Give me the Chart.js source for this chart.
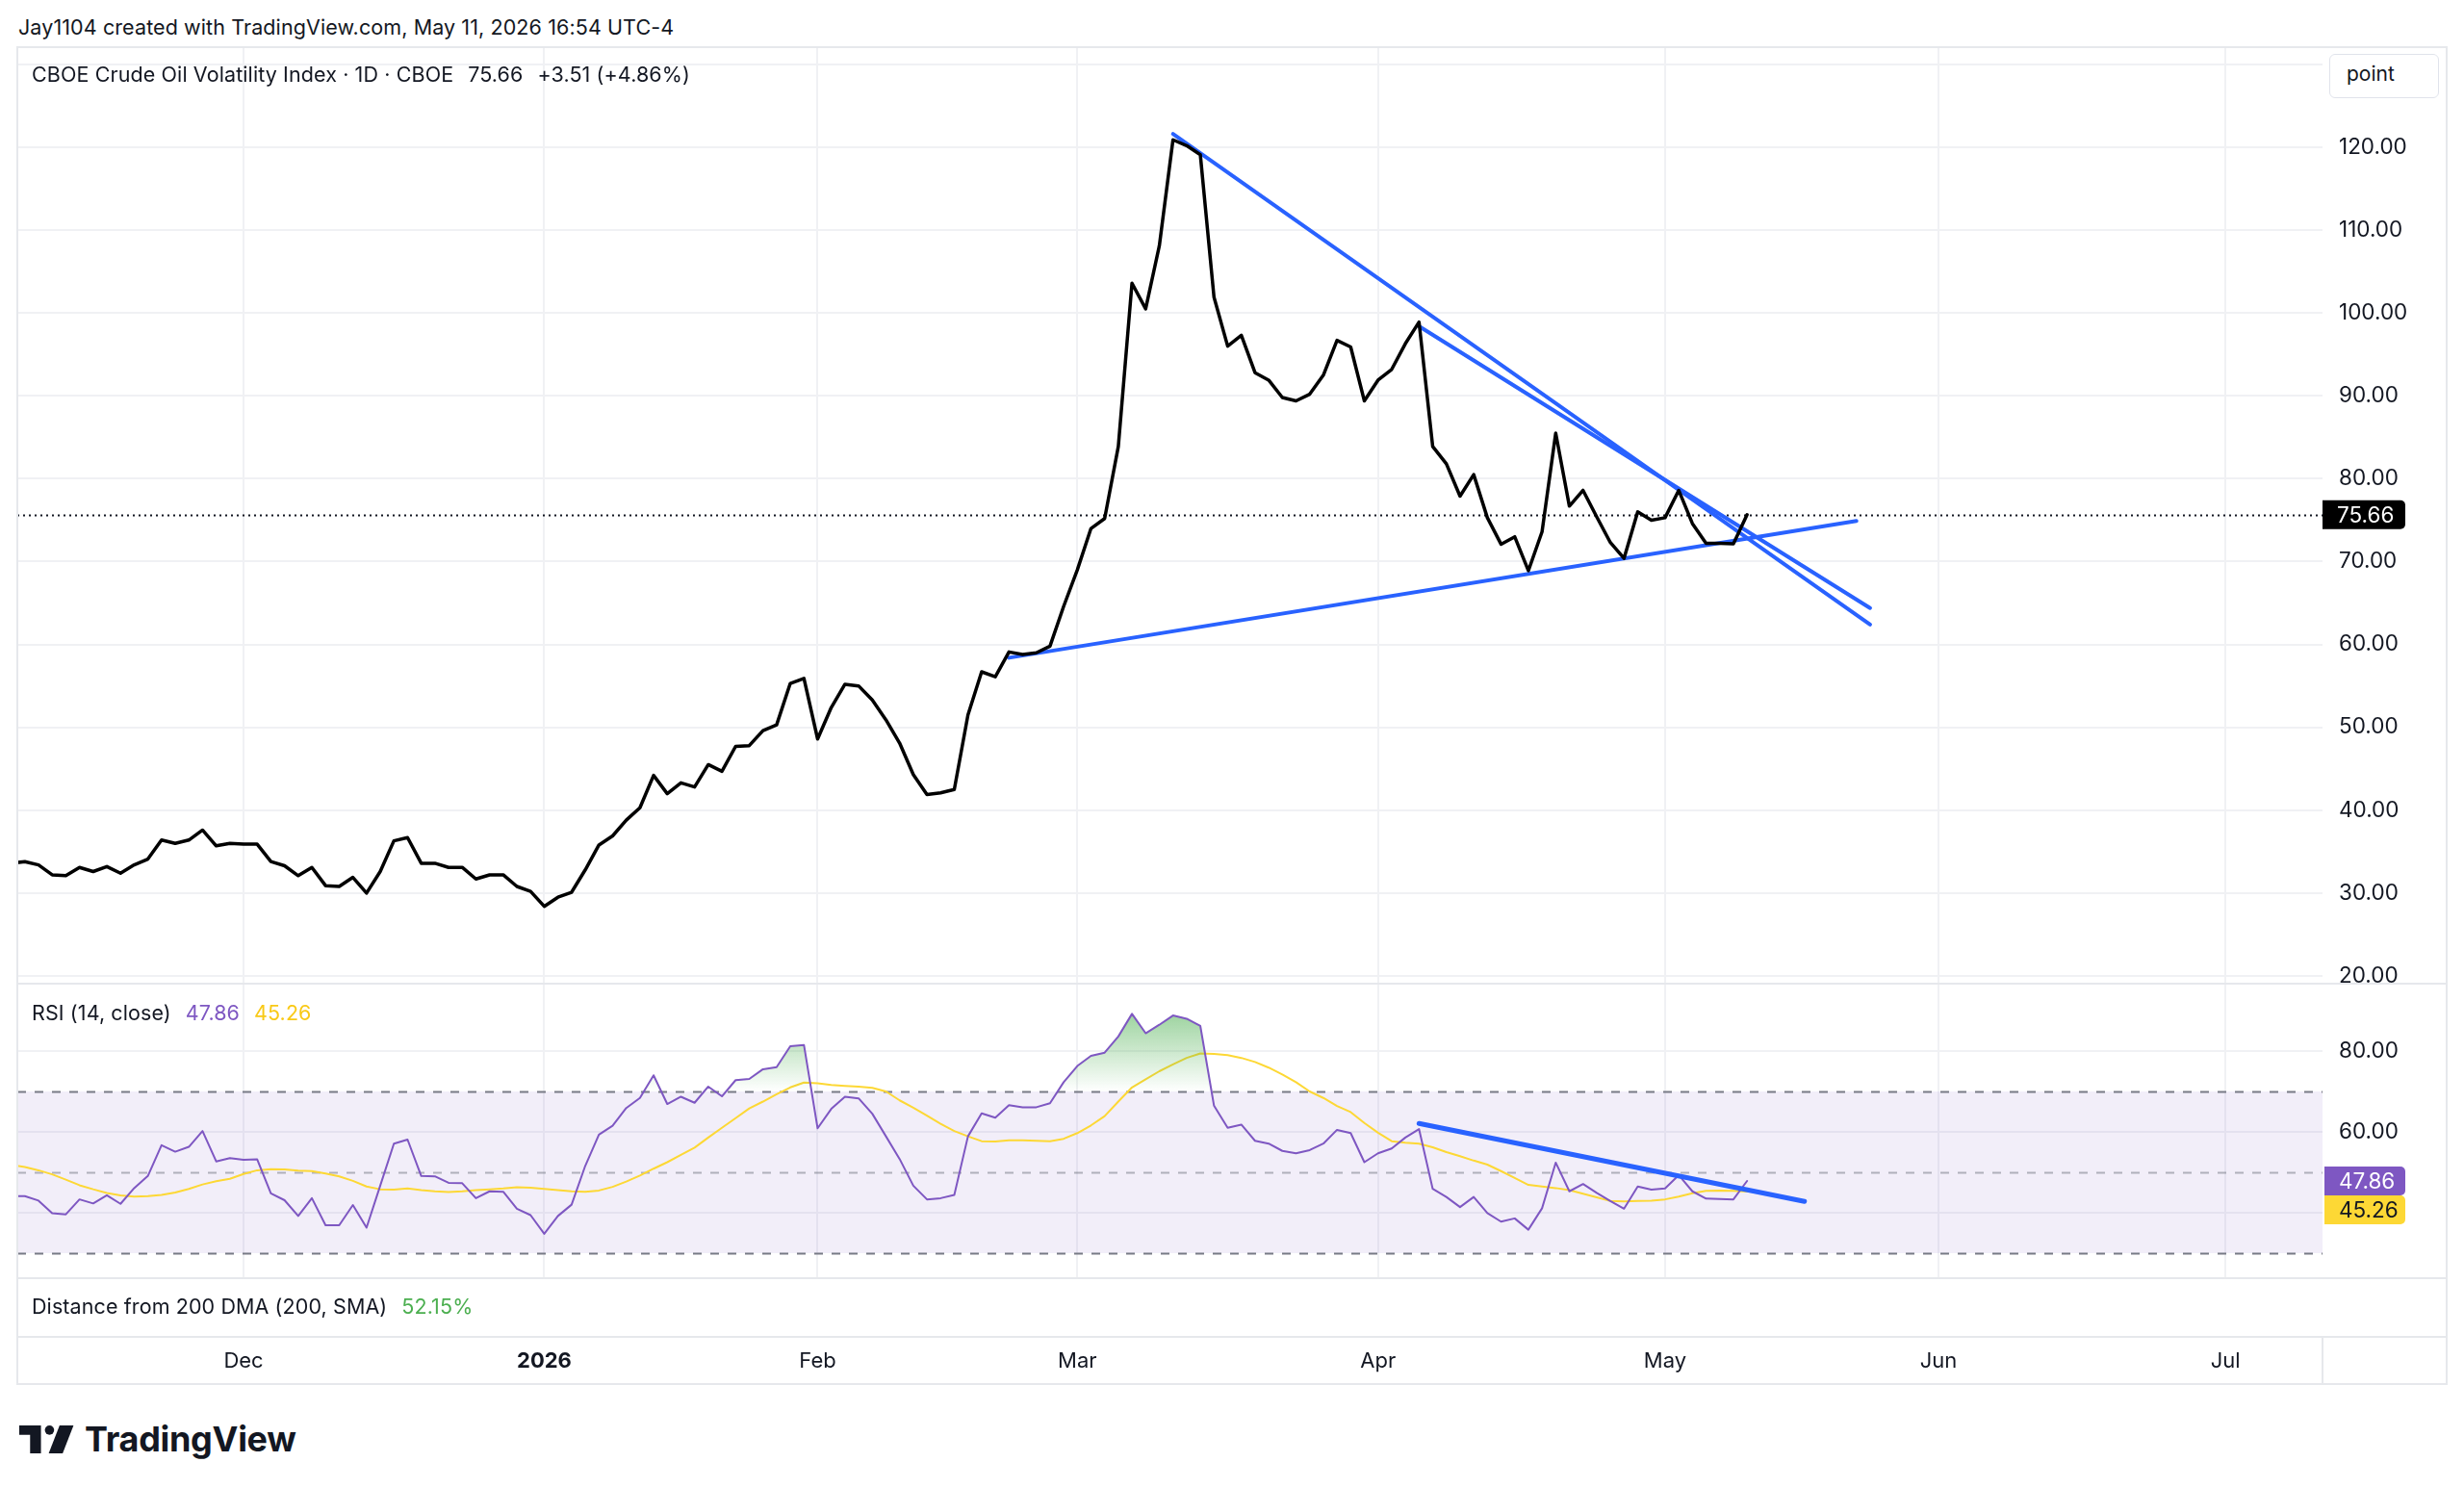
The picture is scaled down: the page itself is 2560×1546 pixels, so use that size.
<!DOCTYPE html>
<html>
<head>
<meta charset="utf-8">
<title>CBOE Crude Oil Volatility Index</title>
<script src="https://cdn.jsdelivr.net/npm/chart.js@4.4.1/dist/chart.umd.min.js"></script>
<style>
  html, body { margin: 0; padding: 0; background: #fff; }
  body {
    position: relative; width: 2560px; height: 1546px; overflow: hidden;
    font-family: Inter, "Noto Sans", "DejaVu Sans", sans-serif; color: #131722;
  }
  .abs { position: absolute; white-space: pre; }
  .pane { position: absolute; left: 18px; width: 2524px; }
  .line-h { position: absolute; left: 18px; width: 2524px; height: 2px; background: #E6E8EC; }
  .line-v { position: absolute; width: 2px; background: #E6E8EC; }
  .legend { position: absolute; left: 33px; font-size: 21.5px; line-height: 24px; white-space: pre; letter-spacing: 0.1px; }
  .gap { margin-left: 15px; }
</style>
</head>
<body>

<div class="abs" style="left:19px; top:16px; font-size:21.5px; line-height:24px; letter-spacing:0.1px;">Jay1104 created with TradingView.com, May 11, 2026 16:54 UTC-4</div>

<div class="pane" style="top:49px; height:973px;"><canvas id="priceChart"></canvas></div>
<div class="pane" style="top:1022px; height:306px;"><canvas id="rsiChart"></canvas></div>
<div class="pane" style="top:1328px; height:110px;"><canvas id="timeChart"></canvas></div>

<!-- frame and pane separators -->
<div class="line-h" style="top:48px;"></div>
<div class="line-h" style="top:1021px;"></div>
<div class="line-h" style="top:1327px;"></div>
<div class="line-h" style="top:1388px;"></div>
<div class="line-h" style="top:1437px;"></div>
<div class="line-v" style="left:17px; top:48px; height:1391px;"></div>
<div class="line-v" style="left:2541px; top:48px; height:1391px;"></div>
<div class="line-v" style="left:2412px; top:1388px; height:50px;"></div>

<div class="legend" style="top:65px;">CBOE Crude Oil Volatility Index · 1D · CBOE<span class="gap">75.66</span><span class="gap">+3.51 (+4.86%)</span></div>
<div class="legend" style="top:1040px;">RSI (14, close)<span class="gap" style="color:#7E57C2;">47.86</span><span class="gap" style="color:#F9C916;">45.26</span></div>
<div class="legend" style="top:1345px;">Distance from 200 DMA (200, SMA)<span class="gap" style="color:#4CAF50;">52.15%</span></div>

<div class="abs" style="left:2420px; top:56px; width:112px; height:44px; border:1px solid #E0E3EB; border-radius:6px; background:#fff;"></div>
<div class="abs" style="left:2438px; top:65px; font-size:21px; line-height:24px;">point</div>

<div class="abs" style="left:20px; top:1477px; display:flex; align-items:center;">
  <svg width="58" height="29" viewBox="0 0 36 18">
    <path d="M0 0H14V18H7V6H0Z" fill="#131722"/>
    <circle cx="19.5" cy="3" r="3" fill="#131722"/>
    <path d="M26 0H35L28 18H19Z" fill="#131722"/>
  </svg>
  <span style="margin-left:10px; font-size:36px; font-weight:700; letter-spacing:-0.3px; line-height:36px;">TradingView</span>
</div>

<script>
// bar 0 = Dec 1 2025, one bar per trading day
const FIRST_BAR = -17;
const monthBars = [0, 22, 42, 61, 83, 104, 124, 145];
const monthLabels = ['Dec', '2026', 'Feb', 'Mar', 'Apr', 'May', 'Jun', 'Jul'];
const priceTicks = [20, 30, 40, 50, 60, 70, 80, 90, 100, 110, 120, 130];
const rsiTicks = [40, 60, 80];
const rsiLevels = [70, 50, 30];

const closes = [
  33.6, 33.8, 33.4, 32.2, 32.1, 33.1, 32.6, 33.2, 32.4, 33.4,
  34.1, 36.4, 36.0, 36.4, 37.6, 35.7, 36.0, 35.9, 35.9, 33.8,
  33.3, 32.1, 33.1, 30.9, 30.8, 31.9, 30.0, 32.6, 36.3, 36.7,
  33.6, 33.6, 33.1, 33.1, 31.7, 32.2, 32.2, 30.8, 30.2, 28.4,
  29.5, 30.1, 32.8, 35.8, 36.9, 38.8, 40.3, 44.2, 42.0, 43.3,
  42.8, 45.5, 44.7, 47.7, 47.8, 49.6, 50.3, 55.3, 55.9, 48.6,
  52.4, 55.2, 55.0, 53.3, 50.9, 48.1, 44.3, 41.9, 42.1, 42.5,
  51.5, 56.7, 56.1, 59.1, 58.8, 59.0, 59.8, 64.6, 69.0, 74.0,
  75.2, 83.9, 103.6, 100.5, 108.1, 120.9, 120.2, 119.1, 101.9, 96.0,
  97.3, 92.8, 91.9, 89.8, 89.4, 90.2, 92.5, 96.7, 95.9, 89.4,
  91.9, 93.2, 96.3, 98.9, 83.9, 81.8, 77.9, 80.5, 75.3, 72.1,
  73.0, 68.9, 73.6, 85.5, 76.7, 78.6, 75.4, 72.3, 70.4, 76.0,
  75.0, 75.3, 78.6, 74.6, 72.2, 72.2, 72.15, 75.66
];

const rsi = [
  44.1, 44.1, 43.0, 39.9, 39.6, 43.3, 42.3, 44.3, 42.2, 46.1,
  49.1, 56.7, 55.1, 56.3, 60.2, 52.7, 53.5, 53.1, 53.2, 44.8,
  43.1, 39.2, 43.6, 36.9, 36.9, 41.9, 36.3, 46.7, 57.1, 58.1,
  49.1, 49.0, 47.4, 47.3, 43.6, 45.3, 45.2, 41.0, 39.4, 34.8,
  39.2, 42.0, 51.6, 59.3, 61.5, 65.9, 68.4, 74.0, 66.9, 68.7,
  67.2, 71.2, 68.8, 72.8, 73.1, 75.5, 76.0, 81.2, 81.5, 60.9,
  65.7, 68.7, 68.3, 64.5, 58.9, 53.3, 46.7, 43.3, 43.6, 44.4,
  58.9, 64.6, 63.5, 66.6, 66.1, 66.1, 67.1, 72.3, 76.3, 78.8,
  79.6, 83.6, 89.2, 84.4, 86.5, 88.8, 88.0, 86.2, 66.5, 61.0,
  61.8, 57.8, 57.1, 55.3, 54.7, 55.5, 57.1, 60.5, 59.7, 52.5,
  54.7, 55.9, 58.6, 60.7, 45.9, 43.9, 41.4, 43.9, 39.9, 37.8,
  38.6, 35.8, 41.1, 52.4, 45.3, 47.1, 44.9, 42.9, 41.0, 46.5,
  45.7, 46.0, 49.3, 45.3, 43.5, 43.4, 43.3, 47.86
];

const rsiMa = [
  51.9, 51.3, 50.5, 49.5, 48.2, 46.8, 45.8, 44.9, 44.3, 44.0,
  44.1, 44.4, 45.0, 45.9, 47.0, 47.8, 48.4, 49.6, 50.5, 50.8,
  50.7, 50.4, 50.3, 49.7, 49.0, 47.9, 46.5, 45.8, 45.7, 46.0,
  45.6, 45.3, 45.1, 45.3, 45.6, 45.8, 46.0, 46.3, 46.2, 45.9,
  45.6, 45.3, 45.2, 45.5, 46.4, 47.7, 49.2, 50.9, 52.5, 54.3,
  56.1, 58.6, 61.0, 63.4, 65.8, 67.5, 69.3, 71.0, 72.2, 72.0,
  71.6, 71.4, 71.2, 70.9, 70.0, 67.8, 66.0, 64.0, 62.0, 60.2,
  58.9, 57.7, 57.6, 57.9, 57.9, 57.8, 57.7, 58.3, 59.7, 61.6,
  63.9, 67.5, 71.0, 73.0, 75.0, 76.7, 78.3, 79.4, 79.3, 79.0,
  78.3, 77.3, 75.9, 74.2, 72.3, 70.0, 68.4, 66.4, 64.9, 62.2,
  59.8, 57.7, 57.3, 57.1, 56.2, 55.0, 54.0, 52.9, 51.9, 50.3,
  48.6, 46.9, 46.5, 46.1, 45.6, 44.7, 43.8, 42.9, 42.8, 42.9,
  43.0, 43.3, 44.0, 44.8, 45.4, 45.5, 45.4, 45.26
];

// drawn trend lines: [bar, value] end points
const peakLine = [[68, 121.6], [119, 62.4]];
const aprilLine = [[86, 98.4], [119, 64.4]];
const supportLine = [[56, 58.4], [118, 74.9]];
const rsiTrendLine = [[86, 62.1], [114.2, 42.8]];

const lastClose = closes[closes.length - 1];
const lastRsi = rsi[rsi.length - 1];
const lastRsiMa = rsiMa[rsiMa.length - 1];

// view range of the shared time axis and panes
const XMIN = -16.55, XMAX = 152.1;
const PRICE_MIN = 19.07, PRICE_MAX = 132.08;
const RSI_MIN = 23.81, RSI_MAX = 96.67;

const AXIS_W = 129;
const GRID = '#F0F1F4';
const BLUE = '#2962FF';
const PURPLE = '#7E57C2';
const YELLOW = '#FDD835';
const FONT = 'Inter, "Noto Sans", sans-serif';
const AXIS_FONT = 22.5;

Chart.defaults.font.family = FONT;
Chart.defaults.color = '#131722';

const toPoints = arr => arr.map((v, i) => ({ x: FIRST_BAR + i, y: v }));
const toXY = pairs => pairs.map(([x, y]) => ({ x, y }));

function timeAxis(height, showLabels, showGrid) {
  return {
    type: 'linear', min: XMIN, max: XMAX,
    afterBuildTicks: s => { s.ticks = monthBars.map(v => ({ value: v })); },
    afterFit: s => { s.height = height; s.paddingLeft = 0; s.paddingRight = 0; },
    ticks: {
      display: showLabels, autoSkip: false, maxRotation: 0, padding: 12,
      font: ctx => ({ size: 22, weight: ctx.tick && ctx.tick.value === 22 ? 'bold' : 'normal' }),
      callback: v => monthLabels[monthBars.indexOf(v)]
    },
    grid: { display: showGrid, color: GRID, lineWidth: 2, drawTicks: false },
    border: { display: false }
  };
}

function valueAxis(min, max, ticks, labelFn) {
  return {
    position: 'right', min, max,
    afterBuildTicks: s => { s.ticks = ticks.map(v => ({ value: v })); },
    afterFit: s => { s.width = AXIS_W; s.paddingTop = 0; s.paddingBottom = 0; },
    ticks: { display: ticks.length > 0, autoSkip: false, padding: 17, font: { size: AXIS_FONT }, callback: labelFn },
    grid: { display: ticks.length > 0, color: GRID, lineWidth: 2, drawTicks: false },
    border: { display: false }
  };
}

function baseOptions(scales) {
  return {
    responsive: true, maintainAspectRatio: false, animation: false,
    layout: { padding: 0, autoPadding: false },
    elements: {
      point: { radius: 0, hoverRadius: 0 },
      line: { tension: 0, borderJoinStyle: 'round', borderCapStyle: 'round' }
    },
    plugins: { legend: { display: false }, tooltip: { enabled: false } },
    events: [],
    scales
  };
}

function valueTag(ctx, x, top, w, h, bg, fg, text) {
  ctx.save();
  ctx.fillStyle = bg;
  ctx.beginPath();
  ctx.roundRect(x, top, w, h, [0, 5, 5, 0]);
  ctx.fill();
  ctx.fillStyle = fg;
  ctx.font = AXIS_FONT + 'px ' + FONT;
  ctx.textAlign = 'left';
  ctx.textBaseline = 'middle';
  ctx.fillText(text, x + 15, top + h / 2 + 1);
  ctx.restore();
}

const lastPricePlugin = {
  id: 'lastPrice',
  beforeDatasetsDraw(chart) {
    const { ctx, chartArea: a, scales: { y } } = chart;
    const py = Math.round(y.getPixelForValue(lastClose)) + 0.5;
    ctx.save();
    ctx.strokeStyle = '#131722';
    ctx.lineWidth = 2;
    ctx.setLineDash([2, 4]);
    ctx.beginPath();
    ctx.moveTo(a.left, py);
    ctx.lineTo(a.right, py);
    ctx.stroke();
    ctx.restore();
  },
  afterDraw(chart) {
    const { ctx, chartArea: a, scales: { y } } = chart;
    const py = y.getPixelForValue(lastClose);
    valueTag(ctx, a.right, py - 15, 86, 30, '#000', '#fff', lastClose.toFixed(2));
  }
};

const rsiBandPlugin = {
  id: 'rsiBand',
  beforeDatasetsDraw(chart) {
    const { ctx, chartArea: a, scales: { y } } = chart;
    const top = y.getPixelForValue(rsiLevels[0]);
    const bottom = y.getPixelForValue(rsiLevels[2]);
    ctx.save();
    ctx.fillStyle = 'rgba(126, 87, 194, 0.1)';
    ctx.fillRect(a.left, top, a.right - a.left, bottom - top);
    ctx.lineWidth = 2;
    ctx.setLineDash([9, 9]);
    rsiLevels.forEach(level => {
      const py = Math.round(y.getPixelForValue(level)) + 0.5;
      ctx.strokeStyle = level === 50 ? 'rgba(120, 123, 134, 0.55)' : '#787B86';
      ctx.beginPath();
      ctx.moveTo(a.left, py);
      ctx.lineTo(a.right, py);
      ctx.stroke();
    });
    ctx.restore();
  },
  afterDraw(chart) {
    const { ctx, chartArea: a, scales: { y } } = chart;
    const h = 30;
    const rsiTop = y.getPixelForValue(lastRsi) - h / 2;
    const maTop = Math.max(y.getPixelForValue(lastRsiMa) - h / 2, rsiTop + h);
    valueTag(ctx, a.right + 2, rsiTop, 84, h, PURPLE, '#fff', lastRsi.toFixed(2));
    valueTag(ctx, a.right + 2, maTop, 84, h, YELLOW, '#131722', lastRsiMa.toFixed(2));
  }
};

// price pane
new Chart(document.getElementById('priceChart'), {
  type: 'line',
  data: {
    datasets: [
      { data: toPoints(closes), borderColor: '#000', borderWidth: 3.5 },
      { data: toXY(peakLine), borderColor: BLUE, borderWidth: 4 },
      { data: toXY(aprilLine), borderColor: BLUE, borderWidth: 4 },
      { data: toXY(supportLine), borderColor: BLUE, borderWidth: 4 }
    ]
  },
  options: baseOptions({
    x: timeAxis(0, false, true),
    y: valueAxis(PRICE_MIN, PRICE_MAX, priceTicks, v => (v === 130 ? '' : v.toFixed(2)))
  }),
  plugins: [lastPricePlugin]
});

// RSI pane
new Chart(document.getElementById('rsiChart'), {
  type: 'line',
  data: {
    datasets: [
      { data: toXY(rsiTrendLine), borderColor: BLUE, borderWidth: 5 },
      {
        data: toPoints(rsi), borderColor: PURPLE, borderWidth: 2,
        fill: { target: { value: 70 }, below: 'rgba(0,0,0,0)' },
        backgroundColor: ctx => {
          const { chart } = ctx;
          if (!chart.chartArea) return 'rgba(0,0,0,0)';
          const y = chart.scales.y;
          const g = chart.ctx.createLinearGradient(0, y.getPixelForValue(100), 0, y.getPixelForValue(70));
          g.addColorStop(0, 'rgba(76, 175, 80, 0.85)');
          g.addColorStop(1, 'rgba(76, 175, 80, 0)');
          return g;
        }
      },
      { data: toPoints(rsiMa), borderColor: YELLOW, borderWidth: 2 }
    ]
  },
  options: baseOptions({
    x: timeAxis(0, false, true),
    y: valueAxis(RSI_MIN, RSI_MAX, rsiTicks, v => (v === 40 ? '' : v.toFixed(2)))
  }),
  plugins: [rsiBandPlugin]
});

// empty DMA pane with the time axis below it
new Chart(document.getElementById('timeChart'), {
  type: 'line',
  data: { datasets: [] },
  options: baseOptions({
    x: timeAxis(49, true, false),
    y: valueAxis(0, 1, [], () => '')
  })
});
</script>
</body>
</html>
